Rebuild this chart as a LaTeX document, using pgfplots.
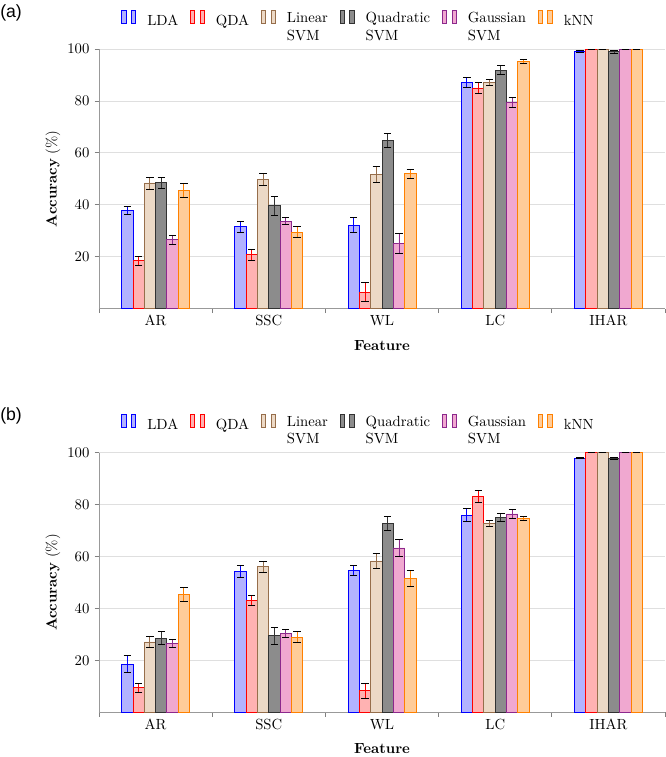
\documentclass[border=0pt]{standalone}
\usepackage{pgfplots}
\pgfplotsset{compat=1.18}
\usepackage{fontspec}
\newfontfamily\labelfont{Liberation Sans}
\definecolor{gfill}{RGB}{240,168,208}
\definecolor{gdraw}{RGB}{140,40,140}
\definecolor{ldraw}{RGB}{150,110,75}
\definecolor{qfill}{RGB}{140,140,140}
\definecolor{qdraw}{RGB}{50,50,50}
\pgfplotsset{
  panel/.style={
    width=384.9pt, height=176.5pt, scale only axis,
    ybar=0pt, bar width=7.7pt,
    xmin=-0.5, xmax=4.5, ymin=0, ymax=100,
    xtick={-0.5,0.5,1.5,2.5,3.5,4.5}, xticklabels={},
    extra x ticks={0,1,2,3,4}, extra x tick labels={AR,SSC,WL,LC,IHAR},
    extra x tick style={major tick length=0pt, tick label style={yshift=-1pt}},
    ytick={20,40,60,80,100},
    tick align=outside, major tick length=3pt,
    tick style={gray, line width=0.6pt},
    ymajorgrids, grid style={gray!25, line width=0.6pt},
    axis x line*=bottom, axis y line*=left,
    axis line style={gray!80, line width=0.6pt},
    xlabel={\textbf{Feature}},
    xlabel style={at={(axis description cs:0.5,-0.1405)}, anchor=center},
    ylabel={\textbf{Accuracy} (\%)},
    ylabel style={at={(axis description cs:-0.0813,0.5)}, anchor=center},
    legend style={draw=none, fill=none, at={(0.039,1.105)}, anchor=west, inner sep=0pt,
      /tikz/every odd column/.append style={column sep=5.5pt},
      /tikz/every even column/.append style={column sep=6pt}},
    legend columns=6, legend cell align=left,
    legend image code/.code={%
      \draw[#1, line width=0.6pt] (0pt,-0.1em) rectangle (3pt,0.75em);
      \draw[#1, line width=0.6pt] (6.5pt,-0.1em) rectangle (9.5pt,0.75em);},
  },
  eb/.style={line width=0.6pt,
      /pgfplots/error bars/y dir=both, /pgfplots/error bars/y explicit,
      /pgfplots/error bars/error bar style={line width=0.6pt},
      /pgfplots/error bars/error mark options={rotate=90, mark size=2.5pt, line width=0.6pt}},
  sLDA/.style={draw=blue, fill=blue!30, eb},
  sQDA/.style={draw=red, fill=red!30, eb},
  sLin/.style={draw=ldraw, fill=brown!30, eb},
  sQua/.style={draw=qdraw, fill=qfill, eb},
  sGau/.style={draw=gdraw, fill=gfill, eb},
  sKNN/.style={draw=orange, fill=orange!40, eb},
}
\newcommand{\twoline}[2]{\begin{tabular}{@{}l@{}}#1\\#2\end{tabular}}
\begin{document}
\begin{tikzpicture}
\useasboundingbox (0,0) rectangle (452.88pt,514.76pt);
\node[font=\labelfont\fontsize{12}{14}\selectfont, anchor=west, inner sep=0pt] at (0pt,506.3pt) {(a)};
\node[font=\labelfont\fontsize{12}{14}\selectfont, anchor=west, inner sep=0pt] at (0pt,231.9pt) {(b)};
\begin{axis}[panel, at={(67.32pt,304.9pt)}, anchor=south west]
\addplot[sLDA] coordinates {(0,37.9) +- (0,1.5) (1,31.5) +- (0,2.1) (2,32.2) +- (0,3.0) (3,87.2) +- (0,1.9) (4,99.1) +- (0,0.3)};
\addlegendentry{LDA}
\addplot[sQDA] coordinates {(0,18.5) +- (0,1.7) (1,20.8) +- (0,2.1) (2,6.4) +- (0,3.7) (3,85.0) +- (0,2.0) (4,100) +- (0,0)};
\addlegendentry{QDA}
\addplot[sLin] coordinates {(0,48.4) +- (0,2.3) (1,49.8) +- (0,2.2) (2,51.8) +- (0,3.0) (3,87.2) +- (0,1.2) (4,100) +- (0,0)};
\addlegendentry{\twoline{Linear}{SVM}}
\addplot[sQua] coordinates {(0,48.5) +- (0,2.2) (1,39.6) +- (0,3.6) (2,64.9) +- (0,2.7) (3,91.9) +- (0,1.6) (4,98.9) +- (0,0.4)};
\addlegendentry{\twoline{Quadratic}{SVM}}
\addplot[sGau] coordinates {(0,26.6) +- (0,1.7) (1,33.6) +- (0,1.35) (2,25.2) +- (0,3.8) (3,79.5) +- (0,1.9) (4,100) +- (0,0)};
\addlegendentry{\twoline{Gaussian}{SVM}}
\addplot[sKNN] coordinates {(0,45.5) +- (0,2.8) (1,29.4) +- (0,2.1) (2,51.9) +- (0,1.8) (3,95.3) +- (0,0.7) (4,100) +- (0,0)};
\addlegendentry{kNN}
\end{axis}
\begin{axis}[panel, at={(67.32pt,30.4pt)}, anchor=south west]
\addplot[sLDA] coordinates {(0,18.6) +- (0,3.4) (1,54.2) +- (0,2.4) (2,54.8) +- (0,1.9) (3,76.0) +- (0,2.6) (4,97.9) +- (0,0.2)};
\addlegendentry{LDA}
\addplot[sQDA] coordinates {(0,9.4) +- (0,1.7) (1,43.0) +- (0,2.0) (2,8.3) +- (0,2.8) (3,83.2) +- (0,2.2) (4,100) +- (0,0)};
\addlegendentry{QDA}
\addplot[sLin] coordinates {(0,27.1) +- (0,2.2) (1,56.0) +- (0,2.3) (2,58.3) +- (0,2.8) (3,72.9) +- (0,1.2) (4,100) +- (0,0)};
\addlegendentry{\twoline{Linear}{SVM}}
\addplot[sQua] coordinates {(0,28.6) +- (0,2.6) (1,29.5) +- (0,3.3) (2,72.9) +- (0,2.7) (3,75.1) +- (0,1.5) (4,97.9) +- (0,0.3)};
\addlegendentry{\twoline{Quadratic}{SVM}}
\addplot[sGau] coordinates {(0,26.4) +- (0,1.5) (1,30.3) +- (0,1.6) (2,63.3) +- (0,3.3) (3,76.4) +- (0,1.8) (4,100) +- (0,0)};
\addlegendentry{\twoline{Gaussian}{SVM}}
\addplot[sKNN] coordinates {(0,45.3) +- (0,2.7) (1,29.0) +- (0,2.2) (2,51.7) +- (0,3.1) (3,74.8) +- (0,0.8) (4,100) +- (0,0)};
\addlegendentry{kNN}
\end{axis}
\end{tikzpicture}
\end{document}
